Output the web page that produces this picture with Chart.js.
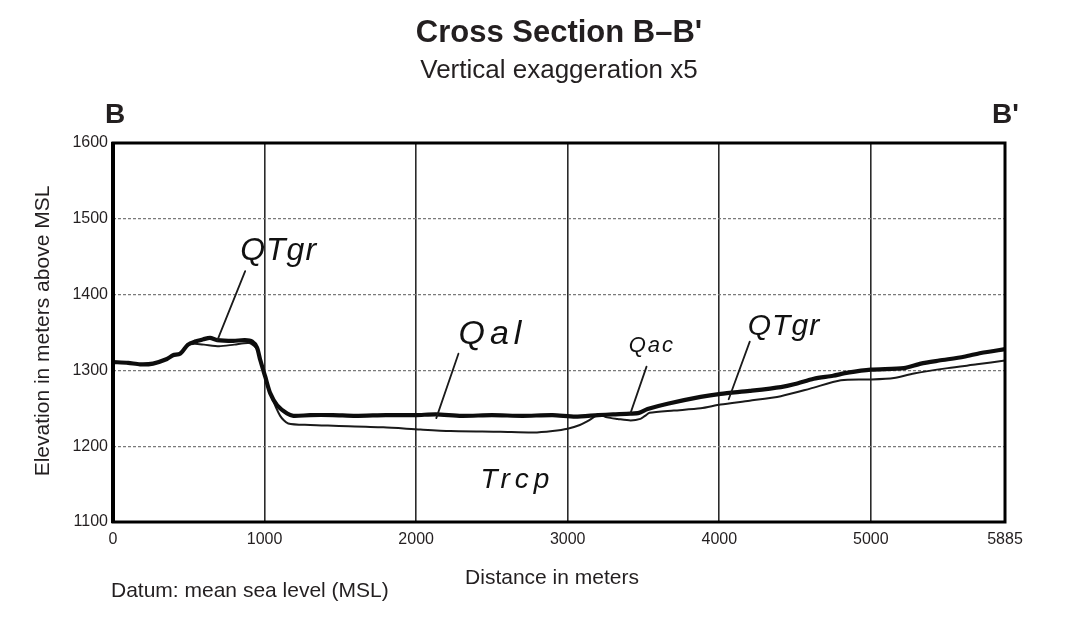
<!DOCTYPE html>
<html><head><meta charset="utf-8">
<script src="https://cdn.jsdelivr.net/npm/chart.js@4"></script>
<style>html,body{margin:0;padding:0;background:#fff}#wrap{width:1066px;height:618px}</style>
</head><body><div id="wrap"><canvas id="c" width="1066" height="618"></canvas></div>
<script>
// ---- data ----
const surfaceDist = [0,100,178,264,356,396,442,495,540,595,640,687,793,870,918,950,971,1004,1037,1083,1149,1190,1300,1450,1600,1800,2000,2130,2300,2500,2700,2900,3050,3200,3300,3415,3470,3527,3659,3877,4009,4200,4406,4500,4623,4750,4848,5000,5218,5330,5450,5614,5726,5885];
const surfaceElev = [1311,1310,1308,1309,1315,1320,1322,1334,1338,1341,1343,1340,1339,1340,1338,1330,1314,1292,1270,1254,1243,1240,1241,1241,1240,1241,1241,1242,1240,1241,1240,1241,1239,1241,1242,1243,1244,1249,1256,1265,1269,1273,1278,1282,1289,1293,1297,1301,1303,1309,1313,1318,1323,1328];
const baseDist = [495,540,600,700,800,900,950,975,1004,1040,1103,1156,1300,1453,1783,2028,2226,2556,2774,2900,2999,3080,3131,3170,3204,3260,3329,3415,3480,3510,3540,3700,3877,4009,4200,4406,4600,4802,5000,5152,5284,5508,5700,5885];
const baseElev = [1334,1335,1334,1332,1334,1336,1328,1312,1290,1268,1240,1230,1228,1227,1225,1222,1220,1219,1218,1220,1223,1228,1233,1238,1242,1238,1236,1234,1236,1240,1244,1247,1250,1255,1260,1266,1276,1287,1288,1290,1296,1303,1308,1313];
const xTickValues = [0,1000,2000,3000,4000,5000,5885];
const yTickValues = [1100,1200,1300,1400,1500,1600];
const unitLabels = ['QTgr','Qal','Qac','QTgr','Trcp'];
const unitLabelDist = [839,2279,3402,4188,2424];
const unitLabelElev = [1445,1335,1324,1347,1145];
const leaderFromDist = [872,2279,3520,4201];
const leaderFromElev = [1431,1322,1305,1338];
const leaderToDist = [687,2133,3415,4062];
const leaderToElev = [1339,1237,1244,1262];
const titleText = "Cross Section B\u2013B'";
const subtitleText = 'Vertical exaggeration x5';
const endLabels = ['B', "B'"];
const xTitle = 'Distance in meters';
const yTitle = 'Elevation in meters above MSL';
const datumNote = 'Datum: mean sea level (MSL)';

// ---- styles ----
const FONT = "'Liberation Sans', Arial, sans-serif";
const labelStyle = [
  {size:32, spacing:1}, {size:34, spacing:5}, {size:22, spacing:2}, {size:30, spacing:1}, {size:28, spacing:5}
];

const textPlugin = {
  id: 'xsText',
  afterDatasetsDraw(chart) {
    const {ctx, chartArea: a} = chart;
    ctx.save();
    ctx.strokeStyle = '#000';
    ctx.lineWidth = 3;
    ctx.strokeRect(a.left, a.top, a.right - a.left, a.bottom - a.top);
    ctx.lineWidth = 4;
    ctx.beginPath(); ctx.moveTo(a.left, a.top - 1); ctx.lineTo(a.left, a.bottom + 1); ctx.stroke();
    ctx.restore();
  },
  afterDraw(chart) {
    const {ctx, chartArea: a, scales: {x, y}} = chart;
    ctx.save();
    // leaders
    ctx.strokeStyle = '#1a1a1a';
    ctx.lineWidth = 1.8;
    ctx.lineCap = 'round';
    for (let i = 0; i < leaderFromDist.length; i++) {
      ctx.beginPath();
      ctx.moveTo(x.getPixelForValue(leaderFromDist[i]), y.getPixelForValue(leaderFromElev[i]));
      ctx.lineTo(x.getPixelForValue(leaderToDist[i]), y.getPixelForValue(leaderToElev[i]));
      ctx.stroke();
    }
    // unit labels
    ctx.fillStyle = '#111';
    ctx.textAlign = 'left';
    ctx.textBaseline = 'alphabetic';
    for (let i = 0; i < unitLabels.length; i++) {
      const st = labelStyle[i];
      ctx.font = `italic ${st.size}px ${FONT}`;
      ctx.letterSpacing = st.spacing + 'px';
      ctx.fillText(unitLabels[i], x.getPixelForValue(unitLabelDist[i]), y.getPixelForValue(unitLabelElev[i]));
    }
    ctx.letterSpacing = '0px';
    // titles
    const cx = (a.left + a.right) / 2;
    ctx.fillStyle = '#231f20';
    ctx.textAlign = 'center';
    ctx.font = `bold 31px ${FONT}`;
    ctx.fillText(titleText, cx, 42);
    ctx.font = `26px ${FONT}`;
    ctx.fillText(subtitleText, cx, 78);
    ctx.font = `bold 28px ${FONT}`;
    ctx.textAlign = 'left';
    ctx.fillText(endLabels[0], 105, 123);
    ctx.textAlign = 'right';
    ctx.fillText(endLabels[1], 1019, 123);
    // axis titles
    ctx.font = `21px ${FONT}`;
    ctx.textAlign = 'center';
    ctx.fillText(xTitle, 552, 584);
    ctx.textAlign = 'left';
    ctx.fillText(datumNote, 111, 597);
    ctx.save();
    ctx.translate(49, 331);
    ctx.rotate(-Math.PI / 2);
    ctx.textAlign = 'center';
    ctx.fillText(yTitle, 0, 0);
    ctx.restore();
    ctx.restore();
  }
};

new Chart(document.getElementById('c'), {
  type: 'scatter',
  data: {
    datasets: [
      {
        label: 'Ground surface',
        data: surfaceDist.map((d, i) => ({x: d, y: surfaceElev[i]})),
        showLine: true, borderColor: '#0d0d0d', borderWidth: 4.2, pointRadius: 0,
        tension: 0.25, borderJoinStyle: 'round', borderCapStyle: 'round'
      },
      {
        label: 'Base of Quaternary units',
        data: baseDist.map((d, i) => ({x: d, y: baseElev[i]})),
        showLine: true, borderColor: '#1a1a1a', borderWidth: 2, pointRadius: 0,
        tension: 0.25, borderJoinStyle: 'round'
      }
    ]
  },
  options: {
    responsive: false,
    animation: false,
    devicePixelRatio: 1,
    layout: {padding: {top: 143, right: 61, bottom: 0, left: 0}},
    plugins: {legend: {display: false}, tooltip: {enabled: false}, title: {display: false}},
    scales: {
      x: {
        type: 'linear', min: 0, max: 5885,
        afterBuildTicks: s => { s.ticks = xTickValues.map(v => ({value: v})); },
        afterFit: s => { s.height = 96; },
        ticks: {font: {family: FONT, size: 16}, color: '#231f20', padding: 8, maxRotation: 0, autoSkip: false,
                callback: v => String(v)},
        grid: {drawTicks: false, lineWidth: 1.6,
               color: c => (c.tick && (c.tick.value === 0 || c.tick.value === 5885)) ? 'rgba(0,0,0,0)' : '#2a2a2a'},
        border: {display: false}
      },
      y: {
        type: 'linear', min: 1100, max: 1600,
        afterBuildTicks: s => { s.ticks = yTickValues.map(v => ({value: v})); },
        afterFit: s => { s.width = 113; },
        ticks: {font: {family: FONT, size: 16}, color: '#231f20', padding: 5, autoSkip: false,
                callback: v => String(v)},
        grid: {drawTicks: false, lineWidth: 1.2,
               color: c => (c.tick && (c.tick.value === 1100 || c.tick.value === 1600)) ? 'rgba(0,0,0,0)' : '#7a7a7a'},
        border: {display: false, dash: [3, 2]}
      }
    }
  },
  plugins: [textPlugin]
});
</script>
</body></html>
